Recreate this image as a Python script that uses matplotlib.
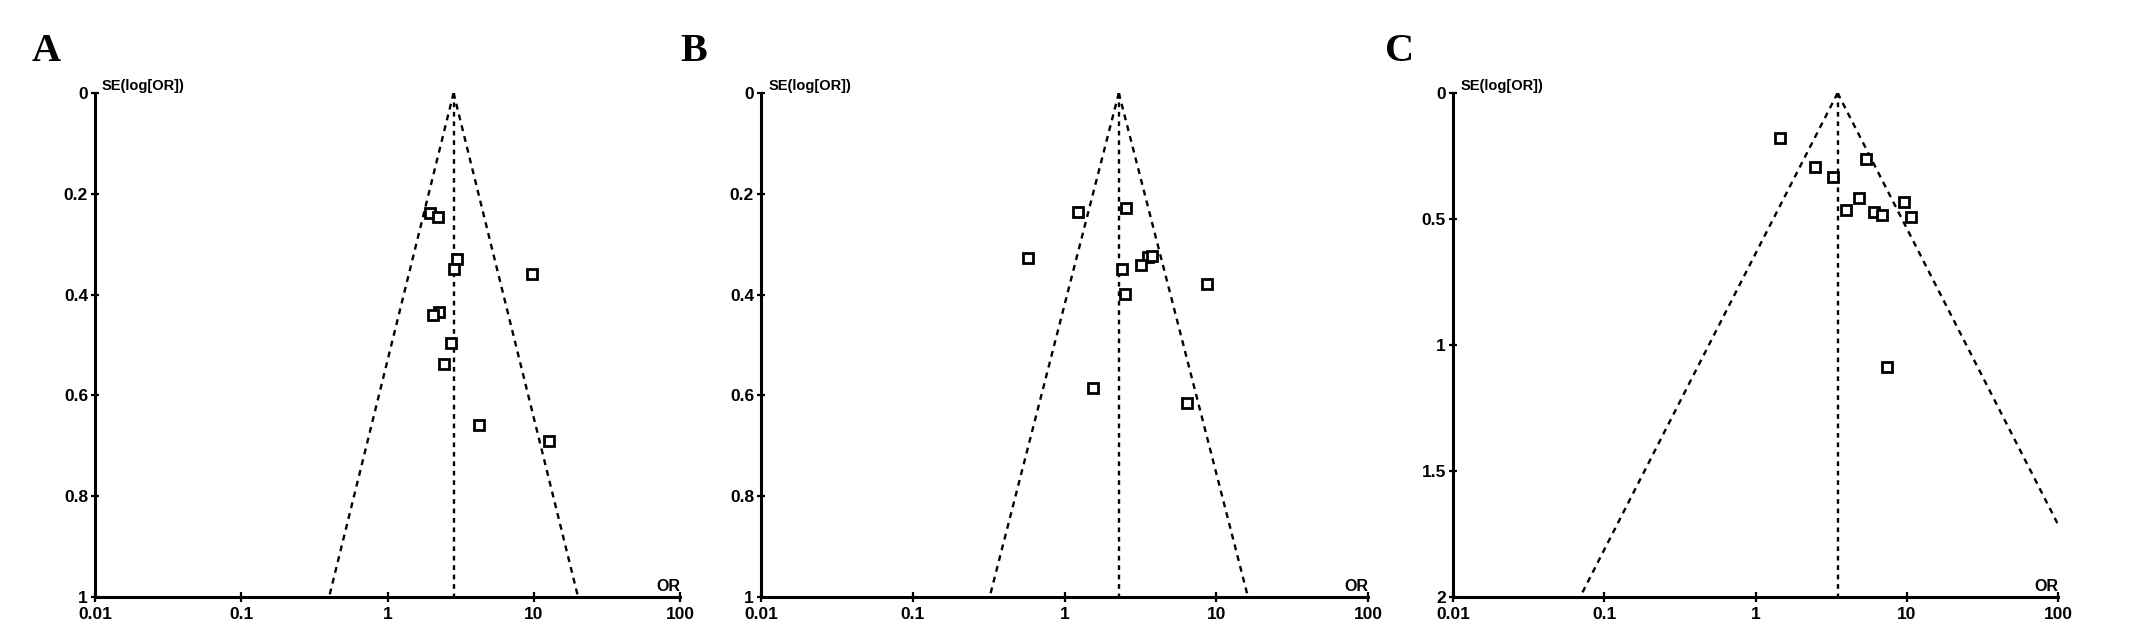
#!/usr/bin/env python3
"""
Funnel plots (SE of log OR against OR) for three meta-analyses, panels A-C.
"""

import numpy as np
import matplotlib.pyplot as plt

# panel A
a_or = [1.95, 2.22, 3.0, 2.87, 9.8, 2.25, 2.05, 2.71, 2.44, 4.22, 12.7]
a_se = [0.239, 0.247, 0.330, 0.350, 0.359, 0.435, 0.441, 0.497, 0.537, 0.659, 0.690]
a_pooled = 2.83
a_yticks = [0, 0.2, 0.4, 0.6, 0.8, 1]

# panel B
b_or = [1.23, 2.53, 0.577, 3.55, 3.80, 3.19, 2.41, 8.71, 2.49, 1.55, 6.44]
b_se = [0.236, 0.228, 0.328, 0.325, 0.324, 0.342, 0.350, 0.378, 0.399, 0.586, 0.616]
b_pooled = 2.28
b_yticks = [0, 0.2, 0.4, 0.6, 0.8, 1]

# panel C
c_or = [1.46, 5.37, 2.48, 3.25, 4.85, 3.95, 6.12, 6.83, 9.53, 10.6, 7.39]
c_se = [0.177, 0.262, 0.295, 0.333, 0.415, 0.464, 0.472, 0.486, 0.432, 0.491, 1.089]
c_pooled = 3.49
c_yticks = [0, 0.5, 1, 1.5, 2]

x_ticks = [0.01, 0.1, 1, 10, 100]
x_labels = ["0.01", "0.1", "1", "10", "100"]
panel_letters = ["A", "B", "C"]

LABEL_FONT = ["Liberation Sans Narrow", "Liberation Sans", "DejaVu Sans"]


def funnel(ax, odds, se, pooled, yticks):
    """Draw one funnel plot on ax."""
    ymax = yticks[-1]
    se_line = np.array([0, ymax])

    # pooled estimate and 95% pseudo-confidence limits
    ax.plot([pooled, pooled], se_line, color="black", lw=1.7,
            dashes=(2.0, 2.0), zorder=2)
    ax.plot(pooled * np.exp(-1.96 * se_line), se_line, color="black", lw=1.7,
            dashes=(2.5, 2.2), zorder=2)
    ax.plot(pooled * np.exp(1.96 * se_line), se_line, color="black", lw=1.7,
            dashes=(2.5, 2.2), zorder=2)

    # studies
    ax.plot(odds, se, linestyle="none", marker="s", markersize=7.5,
            markerfacecolor="white", markeredgecolor="black",
            markeredgewidth=2.0, zorder=3)

    ax.set_xscale("log")
    ax.set_xlim(0.01, 100)
    ax.set_ylim(ymax, 0)
    ax.set_xticks(x_ticks)
    ax.set_xticklabels(x_labels)
    ax.minorticks_off()
    ax.set_yticks(yticks)
    ax.set_yticklabels([f"{t:g}" for t in yticks])

    for side in ["top", "right"]:
        ax.spines[side].set_visible(False)
    for side in ["left", "bottom"]:
        ax.spines[side].set_linewidth(2.2)

    ax.tick_params(axis="x", direction="inout", length=7, width=1.6, pad=4)
    ax.tick_params(axis="y", direction="inout", length=6, width=1.6, pad=2)
    for lab in ax.get_xticklabels() + ax.get_yticklabels():
        lab.set_family(LABEL_FONT)
        lab.set_fontweight("bold")
        lab.set_fontsize(12.5)

    # axis titles
    ax.text(0.012, 1.0, "SE(log[OR])", transform=ax.transAxes,
            ha="left", va="bottom", family=LABEL_FONT, fontweight="bold",
            fontsize=10.5)
    ax.text(1.0, 0.006, "OR", transform=ax.transAxes, ha="right",
            va="bottom", family=LABEL_FONT, fontweight="bold", fontsize=11.5)


def main():
    fig = plt.figure(figsize=(21.3, 6.36), dpi=100)
    h = (597 - 93) / 636
    b = 1 - 597 / 636
    axes = [
        fig.add_axes([95 / 2130, b, 585 / 2130, h]),
        fig.add_axes([761 / 2130, b, 607 / 2130, h]),
        fig.add_axes([1453 / 2130, b, 605 / 2130, h]),
    ]

    funnel(axes[0], a_or, a_se, a_pooled, a_yticks)
    funnel(axes[1], b_or, b_se, b_pooled, b_yticks)
    funnel(axes[2], c_or, c_se, c_pooled, c_yticks)

    # panel letters
    for x_px, letter in zip([32, 680, 1385], panel_letters):
        fig.text(x_px / 2130, 1 - 61 / 636, letter, ha="left", va="baseline",
                 family=["Liberation Serif", "DejaVu Serif"],
                 fontweight="bold", fontsize=29)

    fig.savefig("out.png", dpi=100)


if __name__ == "__main__":
    main()
